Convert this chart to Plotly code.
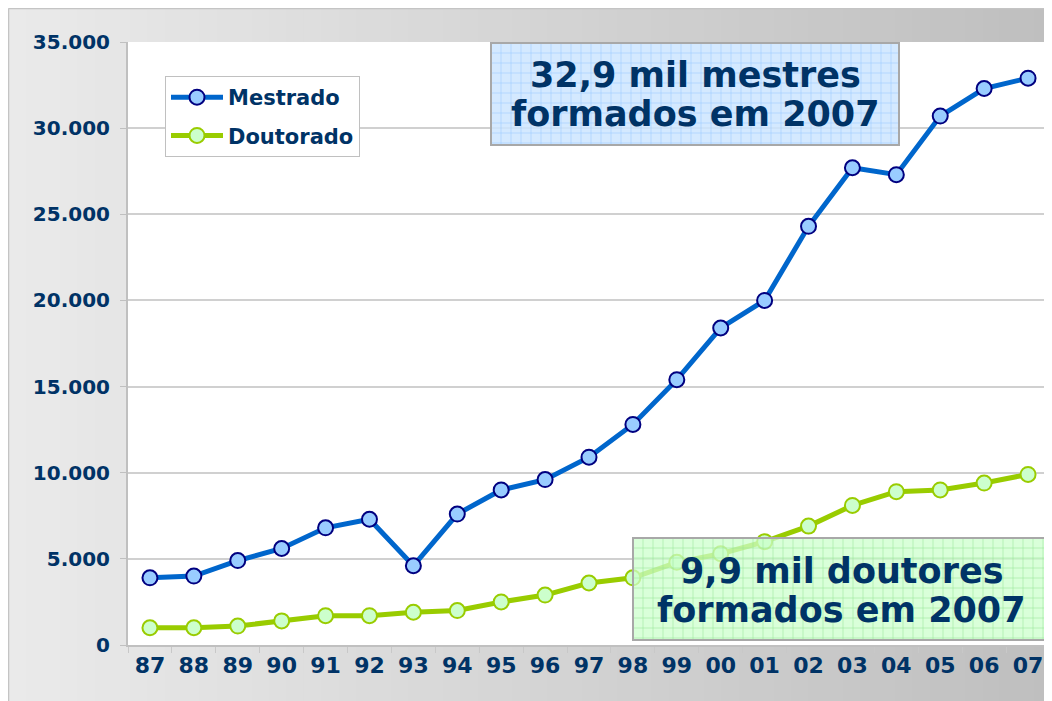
import plotly.graph_objects as go

anos = ['87', '88', '89', '90', '91', '92', '93', '94', '95', '96', '97',
        '98', '99', '00', '01', '02', '03', '04', '05', '06', '07']
mestrado = [3900, 4000, 4900, 5600, 6800, 7300, 4600, 7600, 9000, 9600, 10900,
            12800, 15400, 18400, 20000, 24300, 27700, 27300, 30700, 32300, 32900]
doutorado = [1000, 1000, 1100, 1400, 1700, 1700, 1900, 2000, 2500, 2900, 3600,
             3900, 4800, 5300, 6000, 6900, 8100, 8900, 9000, 9400, 9900]
y_ticks = [0, 5000, 10000, 15000, 20000, 25000, 30000, 35000]

navy = '#003366'
fonte = 'DejaVu Sans'

# the page body has an 8px margin, so the figure is drawn 8px in
OFF = 8
W, H = 1052 - OFF, 701 - OFF
L, R, T, B = 120, 2, 34, 56
pw, ph = W - L - R, H - T - B


def px(x):
    # page pixel -> paper x
    return (x - OFF - L) / pw


def py(y):
    # page pixel -> paper y
    return (H - B - (y - OFF)) / ph


fig = go.Figure()

fig.add_trace(go.Scatter(
    x=anos, y=mestrado, name='Mestrado', mode='lines+markers',
    legendgroup='m',
    line=dict(color='#0066cc', width=5),
    marker=dict(size=15, color='#99ccff', line=dict(color='#000080', width=2)),
))
fig.add_trace(go.Scatter(
    x=anos, y=doutorado, name='Doutorado', mode='lines+markers',
    legendgroup='d',
    line=dict(color='#99cc00', width=5),
    marker=dict(size=15, color='#ccffcc', line=dict(color='#99cc00', width=2)),
))

shapes = []
# grey gradient frame
n = 60
x_start, x_end = 8, 1052
for i in range(n):
    a = x_start + (x_end - x_start) * i / n
    b = x_start + (x_end - x_start) * (i + 1) / n + 1
    g = round(234 - (234 - 191) * i / (n - 1))
    shapes.append(dict(type='rect', xref='paper', yref='paper', layer='below',
                       x0=px(a), x1=px(b), y0=py(701), y1=py(8),
                       fillcolor=f'rgb({g},{g},{g})', line=dict(width=0)))
shapes.append(dict(type='line', xref='paper', yref='paper', layer='below',
                   x0=px(8.5), x1=px(8.5), y0=py(701), y1=py(8.5),
                   line=dict(color='#c4c4c4', width=1.5)))
shapes.append(dict(type='line', xref='paper', yref='paper', layer='below',
                   x0=px(8.5), x1=px(1052), y0=py(8.5), y1=py(8.5),
                   line=dict(color='#c4c4c4', width=1.5)))
# white plotting area
shapes.append(dict(type='rect', xref='paper', yref='paper', layer='below',
                   x0=0, x1=1, y0=0, y1=1, fillcolor='white', line=dict(width=0)))


def caixa(x0, y0, x1, y1, fundo, grade):
    out = [dict(type='rect', xref='paper', yref='paper', layer='above',
                x0=px(x0), x1=px(x1), y0=py(y1), y1=py(y0),
                fillcolor=fundo, line=dict(width=0))]
    x = x0 + 10
    while x < x1:
        out.append(dict(type='line', xref='paper', yref='paper', layer='above',
                        x0=px(x), x1=px(x), y0=py(y1), y1=py(y0),
                        line=dict(color=grade, width=1)))
        x += 10
    y = y0 + 10
    while y < y1:
        out.append(dict(type='line', xref='paper', yref='paper', layer='above',
                        x0=px(x0), x1=px(x1), y0=py(y), y1=py(y),
                        line=dict(color=grade, width=1)))
        y += 10
    out.append(dict(type='rect', xref='paper', yref='paper', layer='above',
                    x0=px(x0), x1=px(x1), y0=py(y1), y1=py(y0),
                    fillcolor='rgba(0,0,0,0)', line=dict(color='#a8a8a8', width=2)))
    return out


shapes += caixa(491, 43, 899, 145, 'rgba(204,229,255,0.85)', 'rgba(150,200,255,0.5)')
shapes += caixa(633, 538, 1049, 640, 'rgba(204,255,204,0.75)', 'rgba(150,230,150,0.5)')


def texto(t, x, y):
    return dict(text='<b>' + t + '</b>', xref='paper', yref='paper',
                x=px(x), y=py(y), xanchor='center', yanchor='middle', showarrow=False,
                font=dict(family=fonte, size=35, color=navy))


annotations = [
    texto('32,9 mil mestres', 695, 75),
    texto('formados em 2007', 695, 114),
    texto('9,9 mil doutores', 841, 571),
    texto('formados em 2007', 841, 610),
]

fig.update_layout(
    width=W, height=H,
    margin=dict(l=L, r=R, t=T, b=B),
    paper_bgcolor='white',
    plot_bgcolor='white',
    separators=',.',
    font=dict(family=fonte, color=navy),
    shapes=shapes,
    annotations=annotations,
    showlegend=True,
    legend=dict(
        x=px(165), y=py(76), xanchor='left', yanchor='top',
        bgcolor='white', bordercolor='#c0c0c0', borderwidth=1,
        font=dict(family=fonte, size=21, color=navy, weight='bold'),
        traceorder='grouped', tracegroupgap=8, itemwidth=52,
    ),
    xaxis=dict(
        type='category', showgrid=False, showline=True, linecolor='#c0c0c0', linewidth=2,
        ticks='outside', tickson='boundaries', ticklen=6, tickcolor='#c8c8c8',
        tickfont=dict(family=fonte, size=22, color=navy, weight='bold'),
        range=[-0.5, 20.5],
    ),
    yaxis=dict(
        range=[0, 35000], tickvals=y_ticks, tickformat=',d',
        showgrid=True, gridcolor='#d0d0d0', gridwidth=1.5,
        showline=True, linecolor='#c0c0c0', linewidth=2,
        ticks='outside', ticklen=6, tickcolor='#c0c0c0', ticklabelstandoff=6,
        tickfont=dict(family=fonte, size=20, color=navy, weight='bold'),
        zeroline=False,
    ),
)

fig.write_html('out.html')
